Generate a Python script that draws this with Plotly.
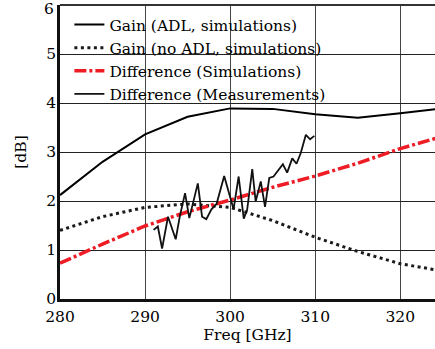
import plotly.graph_objects as go

# Simulated curves, sampled every 5 GHz
freq_sim = [280, 285, 290, 295, 300, 305, 310, 315, 320, 325]
gain_adl = [2.12, 2.80, 3.36, 3.72, 3.89, 3.88, 3.77, 3.70, 3.79, 3.89]
gain_no_adl = [1.40, 1.68, 1.87, 1.94, 1.87, 1.60, 1.26, 0.97, 0.72, 0.57]
diff_sim = [0.73, 1.12, 1.49, 1.78, 2.02, 2.28, 2.51, 2.77, 3.07, 3.32]

# Measured difference
freq_meas = [291.0, 291.5, 292.0, 292.7, 293.6, 294.1, 294.7, 295.2, 296.2, 296.7,
             297.2, 297.8, 298.4, 299.3, 300.4, 301.0, 301.6, 302.0, 302.6, 303.0,
             303.6, 304.1, 304.6, 305.1, 306.2, 306.7, 307.3, 307.8, 308.3, 308.9,
             309.4, 309.9]
diff_meas = [1.41, 1.48, 1.03, 1.68, 1.22, 1.70, 2.16, 1.65, 2.36, 1.68,
             1.63, 1.83, 1.94, 2.51, 1.83, 2.50, 1.64, 1.82, 2.65, 1.99,
             2.40, 1.88, 2.47, 2.50, 2.75, 2.58, 2.87, 2.76, 2.98, 3.35,
             3.26, 3.33]

x_ticks = [280, 290, 300, 310, 320]
y_ticks = [0, 1, 2, 3, 4, 5, 6]

FONT = "DejaVu Serif"
FS = 15.5

fig = go.Figure()
fig.add_trace(go.Scatter(x=freq_sim, y=gain_adl, mode="lines",
                         name="Gain (ADL, simulations)",
                         line=dict(color="black", width=2)))
fig.add_trace(go.Scatter(x=freq_sim, y=gain_no_adl, mode="lines",
                         name="Gain (no ADL, simulations)",
                         line=dict(color="#1a1a1a", width=3, dash="3px,3.5px")))
fig.add_trace(go.Scatter(x=freq_sim, y=diff_sim, mode="lines",
                         name="Difference (Simulations)",
                         line=dict(color="#ee1c24", width=3.5, dash="12px,3px,3px,3px")))
fig.add_trace(go.Scatter(x=freq_meas, y=diff_meas, mode="lines",
                         name="Difference (Measurements)",
                         line=dict(color="#111111", width=1.8)))

# the top label sits against the page edge, so it is drawn nudged down
y_ticktext = [str(v) for v in y_ticks[:-1]] + [""]
fig.add_annotation(x=0, xref="paper", y=y_ticks[-1], yref="y",
                   text=str(y_ticks[-1]), showarrow=False,
                   xanchor="right", yanchor="middle", xshift=-4, yshift=-4,
                   font=dict(family=FONT, size=FS, color="black"))

# frame line along the top edge of the plotting area
fig.add_shape(type="line", xref="paper", x0=0, x1=1, yref="paper",
              y0=1, y1=1, line=dict(color="#333333", width=2), layer="above")

fig.update_layout(
    width=435, height=349,
    margin=dict(l=60, r=0, t=5, b=50),
    paper_bgcolor="white", plot_bgcolor="white",
    font=dict(family=FONT, size=FS, color="black"),
    showlegend=True,
    legend=dict(x=0.025, y=0.99, xanchor="left", yanchor="top",
                bgcolor="rgba(0,0,0,0)", borderwidth=0,
                font=dict(family=FONT, size=FS), tracegroupgap=0,
                itemwidth=30),
)
fig.update_xaxes(range=[280, 324.08], tickvals=x_ticks, ticktext=[str(v) for v in x_ticks],
                 showgrid=True, gridcolor="#444444", gridwidth=1,
                 showline=True, linecolor="#111111", linewidth=2.5,
                 ticks="", zeroline=False, ticklabelstandoff=2,
                 title=dict(text="Freq [GHz]", standoff=0, font=dict(size=FS)))
fig.update_yaxes(range=[0, 6], tickvals=y_ticks, ticktext=y_ticktext,
                 showgrid=True, gridcolor="#222222", gridwidth=1,
                 showline=True, linecolor="#111111", linewidth=2.5,
                 ticks="", ticklen=0, zeroline=False, ticklabelstandoff=-2,
                 ticklabeloverflow="allow",
                 title=dict(text="[dB]", standoff=16, font=dict(size=FS)))

fig.write_html("out.html")
